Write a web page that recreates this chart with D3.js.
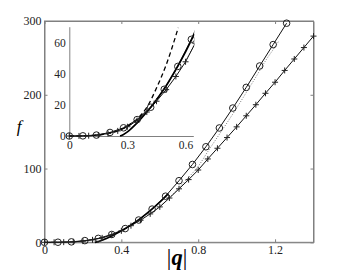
<!DOCTYPE html>
<html><head><meta charset="utf-8">
<script src="https://cdn.jsdelivr.net/npm/d3@7"></script>
<style>
html,body{margin:0;padding:0;background:#fff;}
</style>
</head><body>
<svg id="c" width="346" height="273"></svg>
<script>
// ---- data ----
const circleQ = [0,0.07,0.14,0.21,0.28,0.35,0.42,0.49,0.56,0.63,0.70,0.77,0.84,0.91,0.98,1.05,1.12,1.19,1.26];
const circleF = [0,0.1,0.6,2.3,5.3,10.6,18.6,30.2,45,62.5,83.5,105.5,129.5,155,182,210,239,268,297];
const plusQ = [0,0.05,0.1,0.15,0.2,0.25,0.3,0.35,0.4,0.45,0.5,0.55,0.6,0.65,0.7,0.75,0.8,0.85,0.9,0.95,1.0,1.05,1.1,1.15,1.2,1.25,1.3,1.35,1.4];
const plusF = [0,0.05,0.2,0.6,1.6,3.3,6,10,15.5,22.5,30,38.5,48,60,72.5,85,98,113,127.5,142,156.5,171.5,186.5,202,217,233,248.5,264,279.5];
const dottedQ = [0.6,0.65,0.7,0.75,0.8,0.85,0.9,0.95,1.0,1.05,1.1,1.15,1.2,1.22];
const dottedF = [48.5,60.5,74,88,103,123,142.5,162,182,203,224,246,265,273];
const thickQ = [0.262,0.28,0.3,0.35,0.4,0.45,0.5,0.55,0.6,0.645];
const thickF = [0,1,2.7,8.5,15.5,23.5,32.5,43,54.5,66];
const dashQ = [0,0.07,0.14,0.2,0.25,0.3,0.35,0.4,0.45,0.5,0.55,0.562];
const dashF = [0,0.1,0.6,1.6,3.3,6.3,11,18.5,31,46,65,70];
const mainXTicks = [0,0.4,0.8,1.2];
const mainXLabels = ["0","0.4","0.8","1.2"];
const mainYTicks = [0,100,200,300];
const mainYLabels = ["0","100","200","300"];
const insetXTicks = [0,0.3,0.6];
const insetXLabels = ["0","0.3","0.6"];
const insetYTicks = [0,20,40,60];
const insetYLabels = ["0","20","40","60"];

const zip = (a,b)=>a.map((v,i)=>[v,b[i]]);
const svg = d3.select("#c");
const SERIF = "Liberation Serif";

// ---- main axes ----
const x = d3.scaleLinear().domain([0,1.4]).range([44.5,313.5]);
const y = d3.scaleLinear().domain([0,300]).range([242.3,21]);
const frame = "#808080";

const gMain = svg.append("g");
gMain.append("rect").attr("x",x(0)).attr("y",y(300)).attr("width",x(1.4)-x(0)).attr("height",y(0)-y(300))
  .attr("fill","none").attr("stroke",frame).attr("stroke-width",1);

const axB = d3.axisBottom(x).tickValues(mainXTicks).tickFormat((d,i)=>mainXLabels[i]).tickSizeInner(-3).tickSizeOuter(0).tickPadding(3.5);
const gB = gMain.append("g").attr("transform",`translate(0,${y(0)})`).call(axB);
const axT = d3.axisTop(x).tickValues(mainXTicks).tickFormat("").tickSizeInner(-3).tickSizeOuter(0);
const gT = gMain.append("g").attr("transform",`translate(0,${y(300)})`).call(axT);
const axL = d3.axisLeft(y).tickValues(mainYTicks).tickFormat((d,i)=>mainYLabels[i]).tickSizeInner(-3).tickSizeOuter(0).tickPadding(3);
const gL = gMain.append("g").attr("transform",`translate(${x(0)},0)`).call(axL);
const axR = d3.axisRight(y).tickValues(mainYTicks).tickFormat("").tickSizeInner(-3).tickSizeOuter(0);
const gR = gMain.append("g").attr("transform",`translate(${x(1.4)},0)`).call(axR);
[gB,gT,gL,gR].forEach(g=>{
  g.attr("font-family",SERIF).attr("font-size",12);
  g.select(".domain").attr("stroke",frame);
  g.selectAll(".tick line").attr("stroke",frame);
  g.selectAll("text").attr("fill","#222");
});

function drawSeries(g, xs, ys, clipId){
  const cg = g.append("g").attr("clip-path",`url(#${clipId})`);
  const line = d3.line().x(d=>xs(d[0])).y(d=>ys(d[1]));
  const smooth = d3.line().x(d=>xs(d[0])).y(d=>ys(d[1])).curve(d3.curveMonotoneX);
  cg.append("path").datum(zip(dottedQ,dottedF)).attr("d",smooth).attr("fill","none")
    .attr("stroke","#777").attr("stroke-width",1).attr("stroke-dasharray","1,1.6");
  cg.append("path").datum(zip(plusQ,plusF)).attr("d",line).attr("fill","none").attr("stroke","#111").attr("stroke-width",1);
  cg.append("path").datum(zip(circleQ,circleF)).attr("d",line).attr("fill","none").attr("stroke","#111").attr("stroke-width",1);
  cg.append("path").datum(zip(thickQ,thickF)).attr("d",smooth).attr("fill","none").attr("stroke","#000").attr("stroke-width",1.7);
  return cg;
}
function drawMarkers(cg, xs, ys){
  cg.selectAll(null).data(zip(plusQ,plusF)).enter().append("path")
    .attr("d",d=>{const px=xs(d[0]),py=ys(d[1]);return `M${px-3},${py}H${px+3}M${px},${py-3}V${py+3}`;})
    .attr("stroke","#222").attr("stroke-width",1).attr("fill","none");
  cg.selectAll(null).data(zip(circleQ,circleF)).enter().append("circle")
    .attr("cx",d=>xs(d[0])).attr("cy",d=>ys(d[1])).attr("r",3.3)
    .attr("fill","none").attr("stroke","#222").attr("stroke-width",1);
}

const defs = svg.append("defs");
defs.append("clipPath").attr("id","cm").append("rect").attr("x",x(0)-6).attr("y",y(300)-6).attr("width",x(1.4)-x(0)+12).attr("height",y(0)-y(300)+12);

const cgMain = drawSeries(gMain, x, y, "cm");
drawMarkers(cgMain, x, y);

// ---- inset ----
const xi = d3.scaleLinear().domain([0,0.64]).range([69.3,193.3]);
const yi = d3.scaleLinear().domain([0,70.7]).range([136,26.7]);
const gIn = svg.append("g");
defs.append("clipPath").attr("id","ci").append("rect").attr("x",xi(0)-5).attr("y",yi(70.7)-5).attr("width",xi(0.64)-xi(0)+6).attr("height",yi(0)-yi(70.7)+10);

const axIB = d3.axisBottom(xi).tickValues(insetXTicks).tickFormat((d,i)=>insetXLabels[i]).tickSize(0).tickPadding(5);
const gIB = gIn.append("g").attr("transform",`translate(0,${yi(0)})`).call(axIB);
const axIL = d3.axisLeft(yi).tickValues(insetYTicks).tickFormat((d,i)=>insetYLabels[i]).tickSize(0).tickPadding(3.5);
const gIL = gIn.append("g").attr("transform",`translate(${xi(0)},0)`).call(axIL);
[gIB,gIL].forEach(g=>{
  g.attr("font-family",SERIF).attr("font-size",11.5);
  g.select(".domain").attr("stroke",frame);
  g.selectAll("text").attr("fill","#222");
});
const cgIn = drawSeries(gIn, xi, yi, "ci");
cgIn.append("path").datum(zip(dashQ,dashF))
  .attr("d",d3.line().x(d=>xi(d[0])).y(d=>yi(d[1])).curve(d3.curveMonotoneX))
  .attr("fill","none").attr("stroke","#000").attr("stroke-width",1.3).attr("stroke-dasharray","4.5,3");
drawMarkers(cgIn, xi, yi);

// ---- axis titles ----
svg.append("text").attr("x",19).attr("y",132).attr("text-anchor","middle")
  .attr("font-family",SERIF).attr("font-size",17).attr("font-style","italic").text("f");
const t = svg.append("text").attr("x",177).attr("y",264.5).attr("text-anchor","middle")
  .attr("font-family",SERIF).attr("font-size",22.5);
t.append("tspan").text("|");
t.append("tspan").attr("font-style","italic").attr("font-weight","bold").text("q");
t.append("tspan").text("|");
</script>
</body></html>
